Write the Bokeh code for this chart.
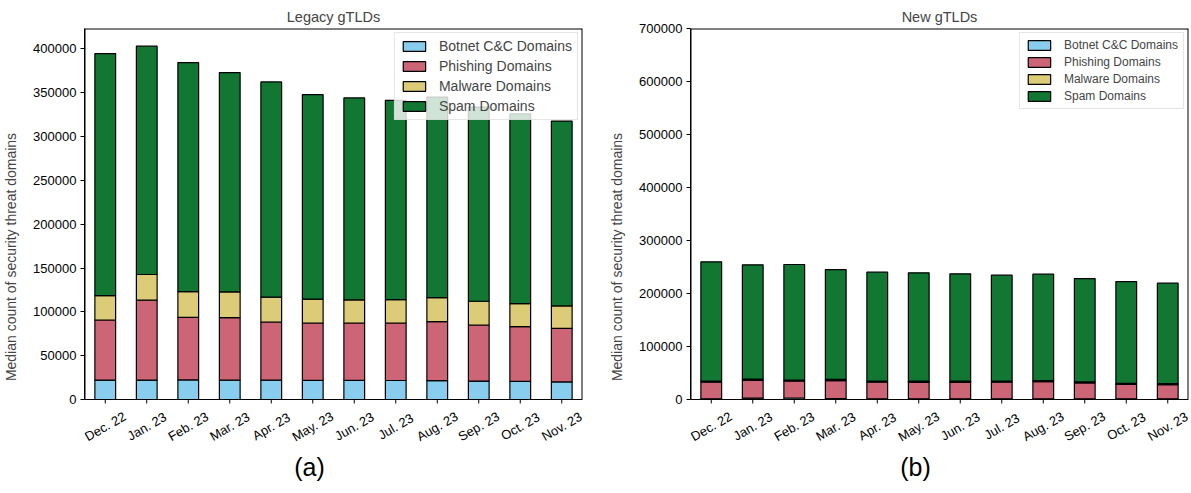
from bokeh.plotting import figure
from bokeh.models import Range1d, FactorRange, SingleIntervalTicker, BasicTickFormatter, ColumnDataSource, Span
from bokeh.core.properties import value
from bokeh.layouts import row
from bokeh.embed import file_html
from bokeh.resources import INLINE

months = ["Dec. 22", "Jan. 23", "Feb. 23", "Mar. 23", "Apr. 23", "May. 23",
          "Jun. 23", "Jul. 23", "Aug. 23", "Sep. 23", "Oct. 23", "Nov. 23"]
series_names = ["Botnet C&C Domains", "Phishing Domains", "Malware Domains", "Spam Domains"]
colors = ["#88CCEE", "#CC6677", "#DDCC77", "#117733"]

legacy_botnet = [22200, 22200, 22300, 22100, 22100, 21800, 21800, 21700, 21600, 21000, 20700, 20000]
legacy_phishing = [68500, 91100, 71500, 71300, 66300, 65500, 65500, 65600, 67200, 64000, 62400, 61200]
legacy_malware = [27800, 29300, 29300, 29400, 28300, 27100, 26300, 26600, 27500, 27100, 26300, 25600]
legacy_spam = [276200, 260500, 261300, 250200, 245600, 233400, 230400, 227400, 228700, 221500, 216600, 210800]

new_botnet = [1200, 2500, 2800, 1500, 1300, 1300, 1200, 1200, 1300, 1200, 1200, 1200]
new_phishing = [31500, 33500, 31700, 34000, 31400, 31200, 31300, 31500, 32200, 30300, 27300, 26800]
new_malware = [2000, 2500, 2200, 2300, 2000, 2000, 2000, 2000, 2200, 2000, 2000, 1900]
new_spam = [225100, 215600, 218000, 207400, 205600, 204500, 202600, 199900, 200800, 194700, 192000, 189600]

FONT = "Liberation Sans"
keys = ["botnet", "phishing", "malware", "spam"]

PLOT_PX = 371      # height of the value area in pixels
BELOW_PX = 86      # room under the value area for month labels and caption


def make(title, series, ymax, interval, caption, legend_font, spacing, border_left, border_right):
    ymin = -BELOW_PX * ymax / PLOT_PX
    px = ymax / PLOT_PX
    n = len(months)
    p = figure(x_range=FactorRange(factors=months, range_padding=0),
               y_range=Range1d(ymin, ymax),
               frame_width=498, frame_height=PLOT_PX + BELOW_PX,
               min_border_left=border_left, min_border_right=border_right,
               min_border_top=28, min_border_bottom=4,
               output_backend="svg", toolbar_location=None, title=title)
    p.outline_line_color = None
    p.xaxis.visible = False
    p.xgrid.visible = False
    p.ygrid.visible = False

    # tick marks under each month
    p.segment(x0=months, y0=[0] * n, x1=months, y1=[-4 * px] * n, line_color="black", line_width=1)

    src = dict(month=months)
    for k, s in zip(keys, series):
        src[k] = s
    p.vbar_stack(keys, x="month", width=0.5, fill_color=colors, line_color="black",
                 line_width=1.2, source=src, legend_label=series_names)

    # axes box around the value area (edges at synthetic 0 and n)
    p.segment(x0=[0, 0, n], y0=[ymax, 0, 0], x1=[n, 0, n], y1=[ymax, ymax, ymax],
              line_color="black", line_width=2)
    p.add_layout(Span(location=0, dimension="width", line_color="black", line_width=1))

    # month labels, centred on the ticks and rotated; caption underneath
    lbl = ColumnDataSource(dict(x=months, y=[0] * n, text=months))
    p.text(x="x", y="y", text="text", source=lbl, angle=30, angle_units="deg",
           y_offset=27, text_align="center", text_baseline="middle",
           text_font=value(FONT), text_font_size="13px", text_color="black")
    p.text(x=[n / 2], y=[0], text=[caption], x_offset=-24, y_offset=67, text_align="center",
           text_baseline="middle", text_font=value(FONT), text_font_size="25px",
           text_color="black")

    p.title.text_font = FONT
    p.title.text_font_size = "14.5px"
    p.title.text_font_style = "normal"
    p.title.align = "center"
    p.title.standoff = 7

    p.yaxis.bounds = (0, ymax)
    p.yaxis.ticker = SingleIntervalTicker(interval=interval, num_minor_ticks=0)
    p.yaxis.formatter = BasicTickFormatter(use_scientific=False)
    p.yaxis.minor_tick_line_color = None
    p.yaxis.major_tick_in = 0
    p.yaxis.major_tick_out = 4
    p.yaxis.major_tick_line_color = "black"
    p.yaxis.axis_line_color = "black"
    p.yaxis.major_label_text_font = FONT
    p.yaxis.major_label_text_font_size = "13px"
    p.yaxis.major_label_text_color = "black"
    p.yaxis.major_label_standoff = 4
    p.yaxis.axis_label = "Median count of security threat domains"
    p.yaxis.axis_label_text_font = FONT
    p.yaxis.axis_label_text_font_size = "14px"
    p.yaxis.axis_label_text_font_style = "normal"
    p.yaxis.axis_label_standoff = 11

    lg = p.legend[0]
    lg.location = "top_right"
    lg.margin = 4
    lg.padding = 5
    lg.spacing = spacing
    lg.glyph_width = 28
    lg.glyph_height = 12
    lg.label_height = 12
    lg.label_standoff = 11
    lg.label_text_font = FONT
    lg.label_text_font_size = legend_font
    lg.border_line_color = "#cccccc"
    lg.border_line_width = 1
    lg.background_fill_alpha = 0.8
    return p


p1 = make("Legacy gTLDs", [legacy_botnet, legacy_phishing, legacy_malware, legacy_spam],
          1.05 * max(sum(v) for v in zip(legacy_botnet, legacy_phishing, legacy_malware, legacy_spam)),
          50000, "(a)", "14px", 4, 83, 19)
p2 = make("New gTLDs", [new_botnet, new_phishing, new_malware, new_spam],
          700000, 100000, "(b)", "12px", 3, 89, 3)

layout = row(p1, p2)
open("out.html", "w").write(file_html(layout, INLINE))
